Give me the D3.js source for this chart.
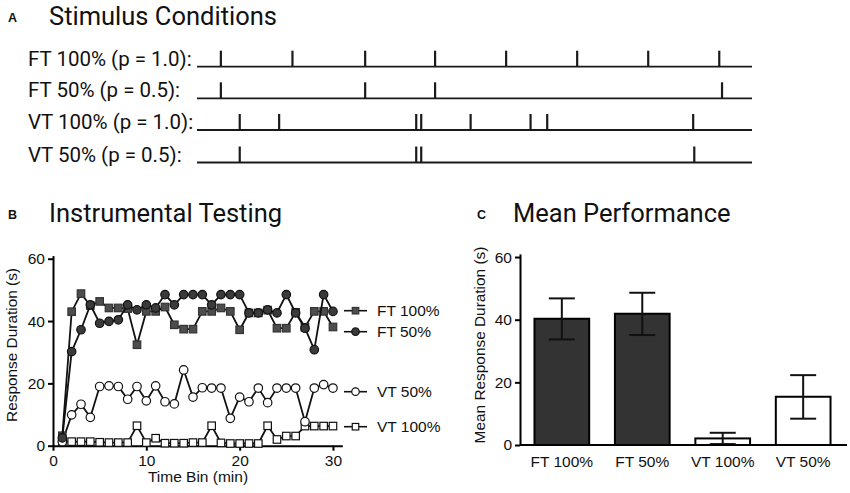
<!DOCTYPE html>
<html>
<head>
<meta charset="utf-8">
<script src="https://cdn.jsdelivr.net/npm/d3@7"></script>
<style>
  body { margin: 0; background: #fff; }
  svg { display: block; }
  text { fill: #111; }
</style>
</head>
<body>
<svg id="fig" width="850" height="493"></svg>
<script>
// ---- Panel A: stimulus schedules (event times, arbitrary session units 0-100)
const scheduleLabels = ['FT 100% (p = 1.0):', 'FT 50% (p = 0.5):', 'VT 100% (p = 1.0):', 'VT 50% (p = 0.5):'];
const ft100Events = [4.3, 17.2, 30.3, 42.9, 55.7, 68.5, 81.3, 94.1];
const ft50Events = [4.3, 30.3, 42.9, 94.6];
const vt100Events = [7.7, 14.8, 39.5, 40.4, 49.3, 60.1, 63.1, 89.4];
const vt50Events = [7.7, 39.5, 40.4, 89.6];

// ---- Panel B: response duration (s) per 1-min time bin
const timeBins = d3.range(1, 31);
const ft100Series = [3.2, 43, 48.8, 45, 46.3, 44.2, 44.2, 44, 32.4, 43.1, 43.1, 44.5, 38.8, 37.4, 37.4,
  43.1, 43.1, 44.2, 43.1, 37.2, 42.6, 42.6, 43.5, 37.7, 37.7, 42.8, 38, 43.1, 43.1, 38.1];
const ft50Series = [2.5, 30.2, 37.2, 45.2, 39.3, 39.9, 40.4, 45.2, 43.6, 45.2, 44.2, 48.5, 45.2, 48.5, 48.5,
  48.5, 45.2, 48.5, 48.5, 48.5, 42.6, 42.6, 43.6, 42.6, 48.5, 42.6, 37.7, 30.8, 48.5, 43.1];
const vt50Series = [1.3, 9.9, 13.3, 9.1, 19.0, 19.2, 19.0, 14.9, 19.0, 14.4, 19.2, 14.1, 13.4, 24.3, 15.6,
  18.6, 18.5, 18.5, 8.8, 15.6, 14.1, 18.5, 13.8, 18.5, 18.5, 18.5, 7.7, 18.5, 19.6, 18.5];
const vt100Series = [1.3, 1.3, 1.3, 1.3, 1.1, 1.0, 1.0, 1.0, 6.4, 1.0, 2.4, 0.8, 0.8, 0.8, 1.0,
  1.0, 6.4, 0.9, 0.7, 0.7, 0.7, 0.7, 6.4, 2.0, 3.1, 3.1, 6.3, 6.3, 6.3, 6.3];
const seriesNames = ['VT 100%', 'VT 50%', 'FT 100%', 'FT 50%'];
const yTicks = [0, 20, 40, 60];
const xTicks = [0, 10, 20, 30];

// ---- Panel C: mean response duration with error bars
const conditions = ['FT 100%', 'FT 50%', 'VT 100%', 'VT 50%'];
const meanDuration = [40.3, 41.9, 2.1, 15.4];
const errLow = [33.7, 35.1, 0.3, 8.4];
const errHigh = [46.8, 48.6, 3.9, 22.3];

const svg = d3.select('#fig');
const titleFont = 'Roboto, "Open Sans", sans-serif';
const chartFont = 'Arial, "Liberation Sans", Helvetica, sans-serif';
const chartSize = 15.5;

function panelTitle(letter, lx, title, tx, y) {
  svg.append('text').attr('x', lx).attr('y', y - 3)
    .attr('font-family', chartFont).attr('font-weight', 'bold').attr('font-size', 12.5)
    .text(letter);
  svg.append('text').attr('x', tx).attr('y', y)
    .attr('font-family', titleFont).attr('font-size', 25.5)
    .text(title);
}

// ================= A =================
panelTitle('A', 8, 'Stimulus Conditions', 49, 25);

const tScale = d3.scaleLinear().domain([0, 100]).range([197, 752]);
const rowY = [66.7, 98.3, 130, 162.5];
const schedules = [ft100Events, ft50Events, vt100Events, vt50Events];

schedules.forEach((events, i) => {
  const g = svg.append('g');
  g.append('text').attr('x', 28).attr('y', rowY[i] - 1)
    .attr('font-family', titleFont).attr('font-size', 20.5)
    .text(scheduleLabels[i]);
  g.append('line')
    .attr('x1', tScale(0)).attr('x2', tScale(100))
    .attr('y1', rowY[i]).attr('y2', rowY[i])
    .attr('stroke', '#1a1a1a').attr('stroke-width', 1.8);
  g.selectAll('line.ev').data(events).enter().append('line')
    .attr('class', 'ev')
    .attr('x1', (d) => tScale(d)).attr('x2', (d) => tScale(d))
    .attr('y1', rowY[i]).attr('y2', rowY[i] - 16)
    .attr('stroke', '#1a1a1a').attr('stroke-width', 2.2);
});

// ================= B =================
panelTitle('B', 8, 'Instrumental Testing', 49, 222);

const xB = d3.scaleLinear().domain([0, 31]).range([53, 342.3]);
const yB = d3.scaleLinear().domain([0, 61]).range([445.7, 255.6]);

function styleAxis(g) {
  g.selectAll('path, line').attr('stroke', '#000').attr('stroke-width', 2);
  g.selectAll('text').attr('font-family', chartFont).attr('font-size', chartSize).attr('fill', '#111');
}

svg.append('g').attr('transform', `translate(0,${yB(0)})`)
  .call(d3.axisBottom(xB).tickValues(xTicks).tickSize(5).tickSizeOuter(0).tickPadding(4))
  .call(styleAxis);
svg.append('g').attr('transform', `translate(${xB(0)},0)`)
  .call(d3.axisLeft(yB).tickValues(yTicks).tickSize(5).tickSizeOuter(0).tickPadding(3))
  .call(styleAxis);

svg.append('text').attr('x', 198).attr('y', 482).attr('text-anchor', 'middle')
  .attr('font-family', chartFont).attr('font-size', chartSize).text('Time Bin (min)');
svg.append('text').attr('transform', 'translate(16.5,345) rotate(-90)').attr('text-anchor', 'middle')
  .attr('font-family', chartFont).attr('font-size', 15.4).text('Response Duration (s)');

const seriesData = [vt100Series, vt50Series, ft100Series, ft50Series];
const seriesStyle = [
  { shape: 'square', fill: '#fff', stroke: '#111', legendY: 426.7 },
  { shape: 'circle', fill: '#fff', stroke: '#111', legendY: 391.7 },
  { shape: 'square', fill: '#4d4d4d', stroke: '#333', legendY: 310.7 },
  { shape: 'circle', fill: '#3a3a3a', stroke: '#111', legendY: 331.7 },
];

const line = d3.line().x((d, i) => xB(timeBins[i])).y((d) => yB(d));

function marker(sel, shape, size) {
  if (shape === 'square') {
    return sel.append('rect')
      .attr('x', (p) => p[0] - size / 2).attr('y', (p) => p[1] - size / 2)
      .attr('width', size).attr('height', size);
  }
  return sel.append('circle')
    .attr('cx', (p) => p[0]).attr('cy', (p) => p[1]).attr('r', size / 2 + 0.5);
}

seriesData.forEach((vals, k) => {
  const st = seriesStyle[k];
  const g = svg.append('g');
  g.append('path').datum(vals).attr('d', line)
    .attr('fill', 'none').attr('stroke', '#111').attr('stroke-width', 1.8);
  const pts = vals.map((v, i) => [xB(timeBins[i]), yB(v)]);
  marker(g.selectAll('g.pt').data(pts).enter().append('g'), st.shape, 7.5)
    .attr('fill', st.fill).attr('stroke', st.stroke).attr('stroke-width', 1.2);

  // legend
  const lg = svg.append('g');
  lg.append('line').attr('x1', 344).attr('x2', 367)
    .attr('y1', st.legendY).attr('y2', st.legendY)
    .attr('stroke', '#111').attr('stroke-width', 1.6);
  marker(lg.selectAll('g').data([[355.5, st.legendY]]).enter().append('g'), st.shape, 6.5)
    .attr('fill', st.fill).attr('stroke', st.stroke).attr('stroke-width', 1.2);
  lg.append('text').attr('x', 377).attr('y', st.legendY + 5.5)
    .attr('font-family', chartFont).attr('font-size', chartSize).text(seriesNames[k]);
});

// ================= C =================
panelTitle('C', 477, 'Mean Performance', 513, 222);

const xC = d3.scaleBand().domain(conditions).range([520, 845]).paddingInner(0.32).paddingOuter(0.18);
const yC = d3.scaleLinear().domain([0, 61]).range([445, 253.9]);

const barFill = ['#333', '#333', '#fff', '#fff'];

svg.append('g').selectAll('rect').data(meanDuration).enter().append('rect')
  .attr('x', (d, i) => xC(conditions[i]))
  .attr('y', (d) => yC(d))
  .attr('width', xC.bandwidth())
  .attr('height', (d) => yC(0) - yC(d))
  .attr('fill', (d, i) => barFill[i])
  .attr('stroke', '#000').attr('stroke-width', 2);

const eb = svg.append('g').attr('stroke', '#111').attr('stroke-width', 2);
conditions.forEach((c, i) => {
  const cx = xC(c) + xC.bandwidth() / 2;
  eb.append('line').attr('x1', cx).attr('x2', cx).attr('y1', yC(errLow[i])).attr('y2', yC(errHigh[i]));
  [errLow[i], errHigh[i]].forEach((v) => {
    eb.append('line').attr('x1', cx - 13).attr('x2', cx + 13).attr('y1', yC(v)).attr('y2', yC(v));
  });
});

svg.append('g').attr('transform', `translate(0,${yC(0)})`)
  .call(d3.axisBottom(xC).tickSize(0).tickSizeOuter(0).tickPadding(11))
  .call(styleAxis)
  .call((g) => g.select('.domain').attr('d', 'M520,0H847'));
svg.append('g').attr('transform', 'translate(520,0)')
  .call(d3.axisLeft(yC).tickValues(yTicks).tickSize(5).tickSizeOuter(0).tickPadding(3))
  .call(styleAxis);

svg.append('text').attr('transform', 'translate(485,345) rotate(-90)').attr('text-anchor', 'middle')
  .attr('font-family', chartFont).attr('font-size', 15.4).text('Mean Response Duration (s)');
</script>
</body>
</html>
